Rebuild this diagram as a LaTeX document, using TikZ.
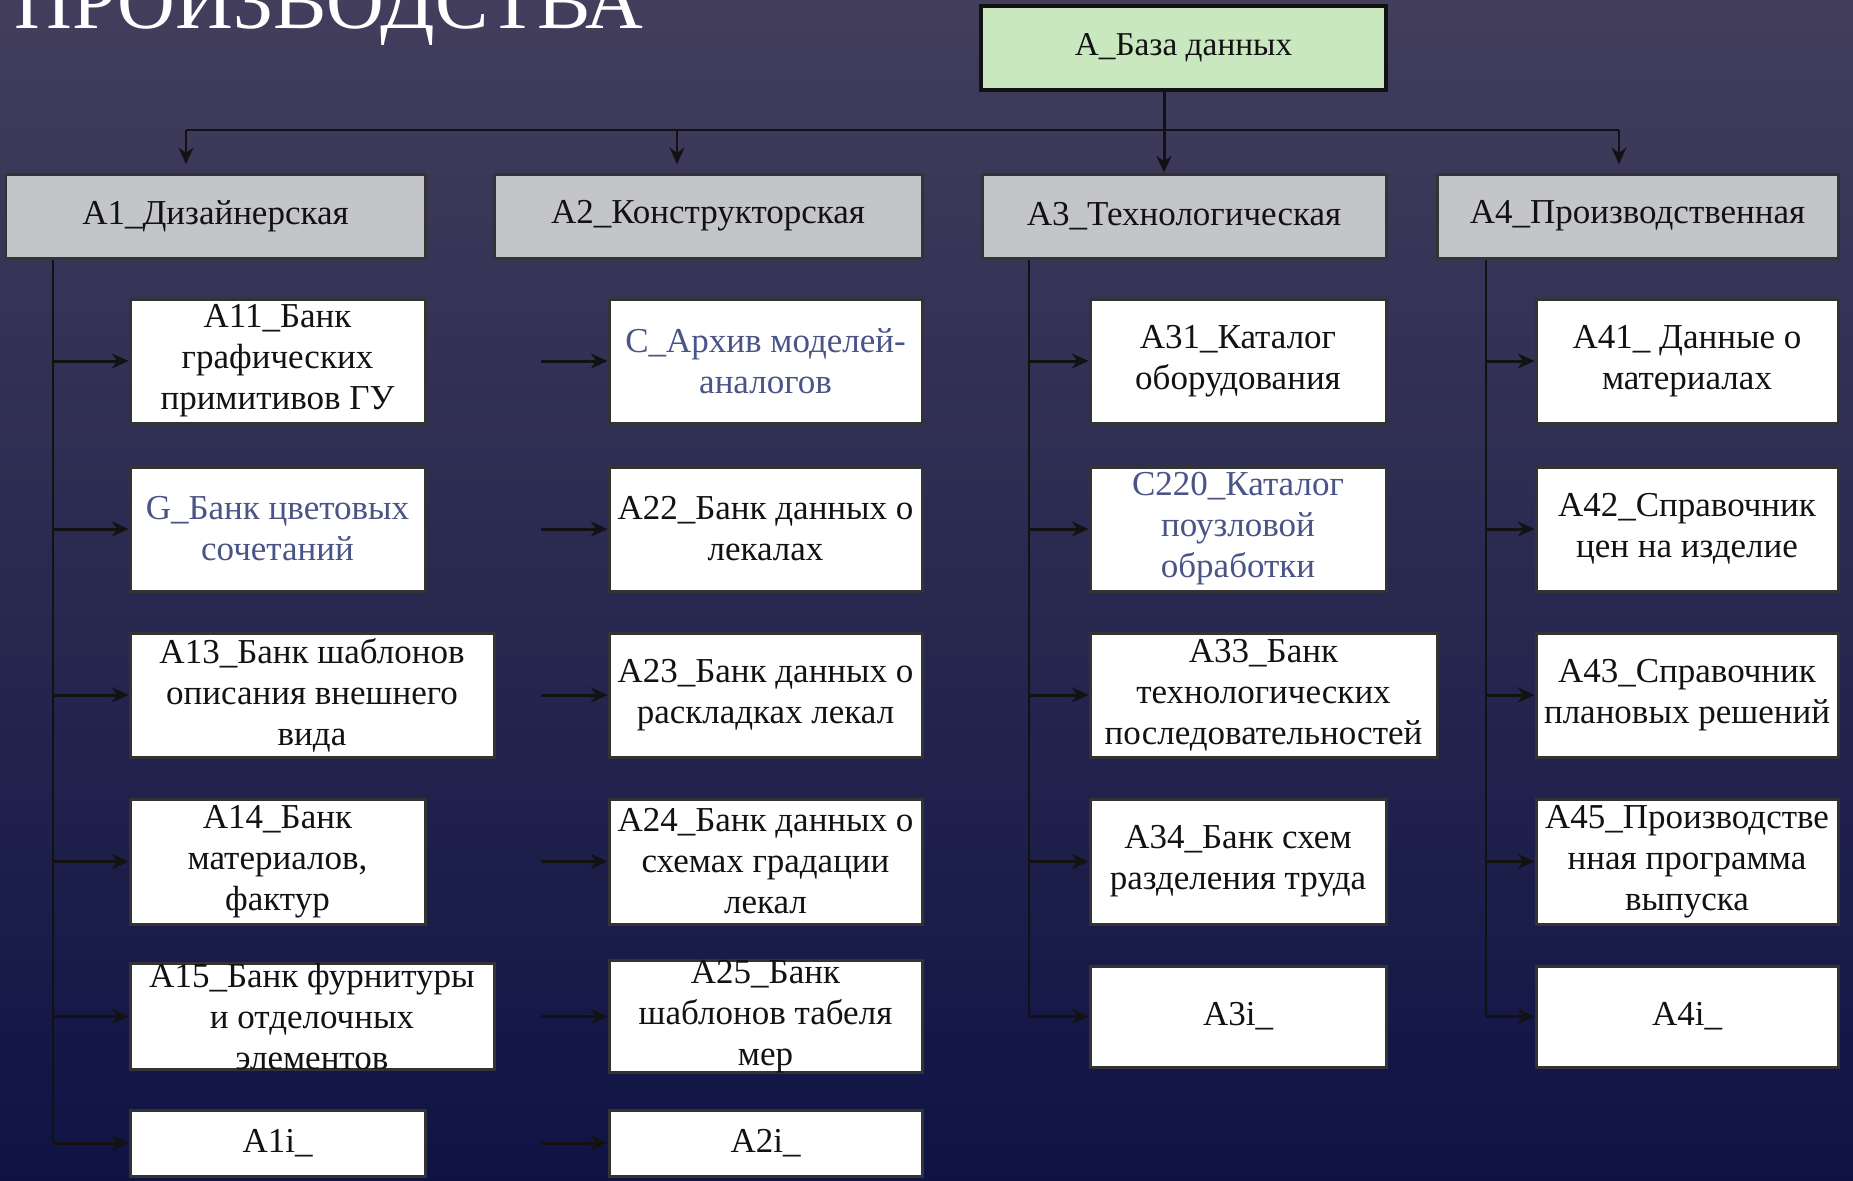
\documentclass[tikz,border=0pt]{standalone}
\usepackage{fontspec}
\setmainfont{Liberation Serif}
\usetikzlibrary{arrows.meta}
\definecolor{bgtop}{RGB}{66,62,92}
\definecolor{bgbot}{RGB}{15,19,68}
\definecolor{dbgreen}{RGB}{201,232,192}
\definecolor{dbgray}{RGB}{196,197,201}
\definecolor{dbink}{RGB}{18,18,18}
\definecolor{dbblue}{RGB}{74,84,134}
\tikzset{
  boxtext/.style={inner sep=0pt,align=center,text=dbink,font=\fontsize{10.5}{12.3}\selectfont},
  rootbox/.style={boxtext,draw=dbink,line width=1.4pt,fill=dbgreen,font=\fontsize{10}{12}\selectfont},
  groupbox/.style={boxtext,draw=black!80,line width=0.9pt,fill=dbgray},
  leafbox/.style={boxtext,draw=black!80,line width=0.9pt,fill=white},
  bluetext/.style={text=dbblue},
  busline/.style={draw=dbink,line width=0.45pt},
  rootline/.style={draw=dbink,line width=0.9pt,-{Stealth[length=5pt,width=4.5pt]}},
  stubline/.style={draw=dbink,line width=0.9pt,-{Stealth[length=5pt,width=4.5pt]}},
}
% box from pixel corners: style, name, x1, y1, x2, y2, text
\newcommand{\dbbox}[7]{%
  \node[#1,minimum width={(#5-#3)*0.3pt},minimum height={(#6-#4)*0.3pt}]
    (#2) at ({(#3+#5)/2},{(#4+#6)/2}) {#7};}
\begin{document}
\begin{tikzpicture}[x=0.3pt,y=-0.3pt]
  \useasboundingbox (0,0) rectangle (1853,1181);
  \clip (0,0) rectangle (1853,1181);
  \shade[top color=bgtop,bottom color=bgbot] (0,0) rectangle (1853,1181);
  \node[anchor=base west,inner sep=0pt,text=white,font=\fontsize{24}{28}\selectfont]
    (title) at (14,28) {ПРОИЗВОДСТВА};
  % root and groups
  \dbbox{rootbox}{A}{981}{6}{1386}{90}{A\_База данных}
  \dbbox{groupbox}{A1}{6}{174}{425}{258}{A1\_Дизайнерская}
  \dbbox{groupbox}{A2}{494}{174}{922}{258}{A2\_Конструкторская}
  \dbbox{groupbox}{A3}{982}{174}{1386}{258}{A3\_Технологическая}
  \dbbox{groupbox}{A4}{1437}{174}{1838}{258}{A4\_Производственная}
  % column 1
  \dbbox{leafbox}{a11}{130}{299}{425}{423}{A11\_Банк\\графических\\примитивов ГУ}
  \dbbox{leafbox,bluetext}{a12}{130}{467}{425}{591}{G\_Банк цветовых\\сочетаний}
  \dbbox{leafbox}{a13}{130}{633}{494}{757}{A13\_Банк шаблонов\\описания внешнего\\вида}
  \dbbox{leafbox}{a14}{130}{799}{425}{924}{A14\_Банк\\материалов,\\фактур}
  \dbbox{leafbox}{a15}{130}{966}{494}{1067}{A15\_Банк фурнитуры\\и отделочных\\элементов}
  \dbbox{leafbox}{a16}{130}{1110}{425}{1176}{A1i\_}
  % column 2
  \dbbox{leafbox,bluetext}{a21}{609}{299}{922}{423}{C\_Архив моделей-\\аналогов}
  \dbbox{leafbox}{a22}{609}{467}{922}{591}{A22\_Банк данных о\\лекалах}
  \dbbox{leafbox}{a23}{609}{633}{922}{757}{A23\_Банк данных о\\раскладках лекал}
  \dbbox{leafbox}{a24}{609}{799}{922}{924}{A24\_Банк данных о\\схемах градации\\лекал}
  \dbbox{leafbox}{a25}{609}{966}{922}{1067}{A25\_Банк\\шаблонов табеля\\мер}
  \dbbox{leafbox}{a26}{609}{1110}{922}{1176}{A2i\_}
  % column 3
  \dbbox{leafbox}{a31}{1090}{299}{1386}{423}{A31\_Каталог\\оборудования}
  \dbbox{leafbox,bluetext}{a32}{1090}{467}{1386}{591}{C220\_Каталог\\поузловой\\обработки}
  \dbbox{leafbox}{a33}{1090}{633}{1437}{757}{A33\_Банк\\технологических\\последовательностей}
  \dbbox{leafbox}{a34}{1090}{799}{1386}{924}{A34\_Банк схем\\разделения труда}
  \dbbox{leafbox}{a35}{1090}{966}{1386}{1067}{A3i\_}
  % column 4
  \dbbox{leafbox}{a41}{1536}{299}{1838}{423}{A41\_ Данные о\\материалах}
  \dbbox{leafbox}{a42}{1536}{467}{1838}{591}{A42\_Справочник\\цен на изделие}
  \dbbox{leafbox}{a43}{1536}{633}{1838}{757}{A43\_Справочник\\плановых решений}
  \dbbox{leafbox}{a44}{1536}{799}{1838}{924}{A45\_Производстве\\нная программа\\выпуска}
  \dbbox{leafbox}{a45}{1536}{966}{1838}{1067}{A4i\_}
  % bus from the root
  \coordinate (b1) at (186,130);
  \coordinate (b2) at (677,130);
  \coordinate (b3) at (1164,130);
  \coordinate (b4) at (1619,130);
  \draw[busline] (b1) -- (b4);
  \foreach \g in {1,2,4}
    \draw[busline,-{Stealth[length=5pt,width=4.5pt]},shorten >=2.5pt] (b\g) -- (A\g.north -| b\g);
  \draw[rootline] (A.south -| b3) -- (A3.north -| b3);
  % trunks and stubs
  \coordinate (t1) at (53,0);
  \coordinate (s2) at (541,0);
  \coordinate (t3) at (1029,0);
  \coordinate (t4) at (1486,0);
  \draw[busline] (A1.south -| t1) -- (a16.west -| t1);
  \draw[busline] (A3.south -| t3) -- (a35.west -| t3);
  \draw[busline] (A4.south -| t4) -- (a45.west -| t4);
  \foreach \r in {1,...,6}{
    \draw[stubline] (a1\r.west -| t1) -- (a1\r.west);
    \draw[stubline] (a2\r.west -| s2) -- (a2\r.west);}
  \foreach \r in {1,...,5}{
    \draw[stubline] (a3\r.west -| t3) -- (a3\r.west);
    \draw[stubline] (a4\r.west -| t4) -- (a4\r.west);}
\end{tikzpicture}
\end{document}
